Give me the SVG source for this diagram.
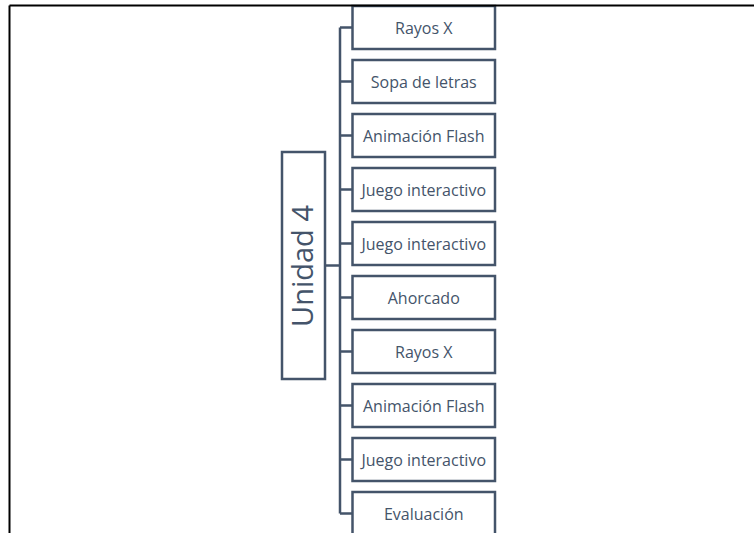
<svg xmlns="http://www.w3.org/2000/svg" width="755" height="533" viewBox="0 0 755 533">
<style>
.box{fill:#fff;stroke:#44546a;stroke-width:2.5}
.lbl{font-family:"Open Sans","Liberation Sans",sans-serif;font-size:16px;fill:#44546a;text-anchor:middle}
.conn{fill:none;stroke:#44546a;stroke-width:2.5}
.frame{fill:none;stroke:#000;stroke-width:2}
</style>
<rect width="755" height="533" fill="#fff"/>
<g id="connectors">
<path class="conn" d="M340,27.5 V513.5"/>
<path class="conn" d="M325,265.5 H340"/>
<path class="conn" d="M340,27.5 H352.5 M340,81.5 H352.5 M340,135.5 H352.5 M340,189.5 H352.5 M340,243.5 H352.5 M340,297.5 H352.5 M340,351.5 H352.5 M340,405.5 H352.5 M340,459.5 H352.5 M340,513.5 H352.5"/>
</g>
<g id="unidad4">
<rect class="box" x="282" y="152" width="43" height="227"/>
<text transform="translate(312.5,266) rotate(-90)" font-family="'Open Sans','Liberation Sans',sans-serif" font-size="29" fill="#44546a" text-anchor="middle">Unidad 4</text>
</g>
<g id="n1"><rect class="box" x="352.5" y="6" width="142.5" height="43"/><text class="lbl" x="423.75" y="33.5">Rayos X</text></g>
<g id="n2"><rect class="box" x="352.5" y="60" width="142.5" height="43"/><text class="lbl" x="423.75" y="87.5">Sopa de letras</text></g>
<g id="n3"><rect class="box" x="352.5" y="114" width="142.5" height="43"/><text class="lbl" x="423.75" y="141.5">Animación Flash</text></g>
<g id="n4"><rect class="box" x="352.5" y="168" width="142.5" height="43"/><text class="lbl" x="423.75" y="195.5">Juego interactivo</text></g>
<g id="n5"><rect class="box" x="352.5" y="222" width="142.5" height="43"/><text class="lbl" x="423.75" y="249.5">Juego interactivo</text></g>
<g id="n6"><rect class="box" x="352.5" y="276" width="142.5" height="43"/><text class="lbl" x="423.75" y="303.5">Ahorcado</text></g>
<g id="n7"><rect class="box" x="352.5" y="330" width="142.5" height="43"/><text class="lbl" x="423.75" y="357.5">Rayos X</text></g>
<g id="n8"><rect class="box" x="352.5" y="384" width="142.5" height="43"/><text class="lbl" x="423.75" y="411.5">Animación Flash</text></g>
<g id="n9"><rect class="box" x="352.5" y="438" width="142.5" height="43"/><text class="lbl" x="423.75" y="465.5">Juego interactivo</text></g>
<g id="n10"><rect class="box" x="352.5" y="492" width="142.5" height="43"/><text class="lbl" x="423.75" y="519.5">Evaluación</text></g>
<g id="frame">
<path class="frame" d="M9.5,5.5 H754 M9.5,5.5 V533"/>
</g>
</svg>
